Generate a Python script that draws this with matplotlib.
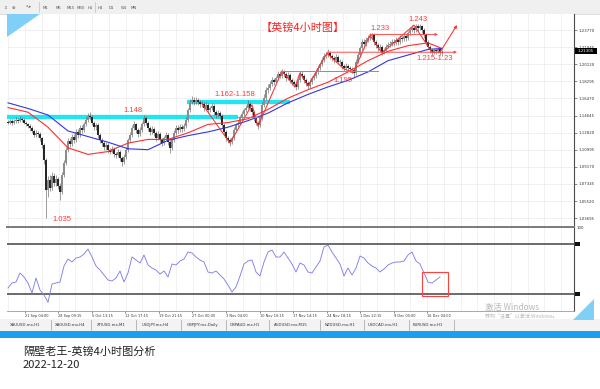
import matplotlib
matplotlib.use("Agg")
import matplotlib.pyplot as plt
from matplotlib.patches import Polygon, Rectangle
import numpy as np

plt.rcParams['font.family'] = ['DejaVu Sans', 'Noto Sans CJK SC']
CJK = ['Noto Sans CJK SC', 'DejaVu Sans']

# ---------------- data (GBPUSD 4H) ----------------
closes = [
    1.139, 1.141, 1.138, 1.141, 1.142, 1.141, 1.143, 1.142, 1.139, 1.137,
    1.135, 1.133, 1.130, 1.126, 1.128, 1.127, 1.122, 1.115, 1.099, 1.067,
    1.078, 1.069, 1.082, 1.074, 1.079, 1.071, 1.065, 1.083, 1.096, 1.110,
    1.119, 1.116, 1.124, 1.120, 1.129, 1.126, 1.133, 1.131, 1.137, 1.142,
    1.146, 1.145, 1.139, 1.134, 1.136, 1.126, 1.120, 1.117, 1.113, 1.115,
    1.110, 1.108, 1.111, 1.105, 1.104, 1.108, 1.101, 1.097, 1.102, 1.110,
    1.120, 1.126, 1.133, 1.137, 1.131, 1.127, 1.131, 1.137, 1.144, 1.139,
    1.133, 1.129, 1.132, 1.128, 1.122, 1.127, 1.120, 1.117, 1.122, 1.126,
    1.118, 1.112, 1.120, 1.128, 1.133, 1.131, 1.134, 1.132, 1.135, 1.142,
    1.152, 1.161, 1.163, 1.161, 1.163, 1.161, 1.159, 1.159, 1.154, 1.158,
    1.152, 1.154, 1.157, 1.150, 1.147, 1.149, 1.146, 1.136, 1.129, 1.122,
    1.120, 1.118, 1.122, 1.131, 1.136, 1.139, 1.144, 1.148, 1.152, 1.155,
    1.159, 1.154, 1.150, 1.144, 1.139, 1.136, 1.144, 1.158, 1.165, 1.174,
    1.176, 1.180, 1.184, 1.182, 1.186, 1.191, 1.189, 1.193, 1.191, 1.186,
    1.190, 1.184, 1.182, 1.180, 1.177, 1.184, 1.191, 1.189, 1.184, 1.181,
    1.178, 1.182, 1.186, 1.189, 1.193, 1.197, 1.201, 1.206, 1.210, 1.211,
    1.213, 1.210, 1.208, 1.206, 1.209, 1.204, 1.204, 1.199, 1.197, 1.199,
    1.197, 1.196, 1.195, 1.192, 1.204, 1.211, 1.218, 1.225, 1.223, 1.227,
    1.229, 1.231, 1.232, 1.225, 1.222, 1.218, 1.220, 1.214, 1.216, 1.220,
    1.222, 1.223, 1.225, 1.224, 1.227, 1.225, 1.229, 1.228, 1.231, 1.229,
    1.234, 1.238, 1.240, 1.238, 1.242, 1.240, 1.242, 1.238, 1.232, 1.225,
    1.220, 1.216, 1.214, 1.216, 1.215, 1.217, 1.214, 1.213]
highs = [
    1.142, 1.143, 1.143, 1.143, 1.145, 1.144, 1.146, 1.145, 1.144, 1.141,
    1.139, 1.137, 1.135, 1.132, 1.131, 1.130, 1.129, 1.124, 1.117, 1.101,
    1.082, 1.083, 1.086, 1.085, 1.083, 1.081, 1.074, 1.086, 1.099, 1.113,
    1.122, 1.123, 1.127, 1.127, 1.132, 1.132, 1.136, 1.136, 1.140, 1.145,
    1.149, 1.150, 1.147, 1.141, 1.139, 1.138, 1.128, 1.122, 1.119, 1.118,
    1.117, 1.112, 1.114, 1.113, 1.108, 1.111, 1.110, 1.103, 1.105, 1.113,
    1.123, 1.129, 1.136, 1.141, 1.139, 1.133, 1.134, 1.140, 1.147, 1.146,
    1.141, 1.135, 1.135, 1.134, 1.130, 1.130, 1.129, 1.122, 1.125, 1.129,
    1.128, 1.120, 1.123, 1.131, 1.136, 1.136, 1.137, 1.137, 1.138, 1.145,
    1.155, 1.164, 1.167, 1.166, 1.166, 1.165, 1.163, 1.162, 1.161, 1.161,
    1.160, 1.157, 1.160, 1.159, 1.152, 1.152, 1.151, 1.148, 1.138, 1.131,
    1.125, 1.123, 1.125, 1.134, 1.139, 1.142, 1.147, 1.151, 1.155, 1.158,
    1.163, 1.161, 1.156, 1.152, 1.146, 1.141, 1.147, 1.161, 1.169, 1.177,
    1.180, 1.183, 1.188, 1.187, 1.189, 1.194, 1.194, 1.196, 1.195, 1.193,
    1.193, 1.192, 1.186, 1.184, 1.182, 1.187, 1.194, 1.194, 1.191, 1.186,
    1.183, 1.185, 1.189, 1.192, 1.196, 1.200, 1.204, 1.209, 1.213, 1.214,
    1.217, 1.215, 1.212, 1.210, 1.212, 1.211, 1.207, 1.206, 1.201, 1.202,
    1.201, 1.199, 1.198, 1.197, 1.207, 1.214, 1.221, 1.228, 1.228, 1.230,
    1.232, 1.234, 1.235, 1.234, 1.227, 1.224, 1.223, 1.222, 1.219, 1.223,
    1.225, 1.226, 1.228, 1.228, 1.230, 1.229, 1.232, 1.231, 1.234, 1.233,
    1.237, 1.241, 1.243, 1.242, 1.244, 1.244, 1.244, 1.243, 1.240, 1.234,
    1.227, 1.222, 1.218, 1.219, 1.219, 1.220, 1.219, 1.217]
lows = [
    1.137, 1.137, 1.136, 1.137, 1.139, 1.139, 1.140, 1.140, 1.137, 1.135,
    1.133, 1.130, 1.128, 1.124, 1.124, 1.124, 1.119, 1.112, 1.095, 1.037,
    1.060, 1.066, 1.067, 1.071, 1.071, 1.068, 1.056, 1.063, 1.081, 1.094,
    1.108, 1.113, 1.114, 1.117, 1.118, 1.123, 1.124, 1.128, 1.129, 1.135,
    1.140, 1.142, 1.136, 1.131, 1.131, 1.123, 1.117, 1.114, 1.110, 1.110,
    1.107, 1.105, 1.106, 1.102, 1.101, 1.102, 1.098, 1.093, 1.095, 1.100,
    1.108, 1.118, 1.124, 1.131, 1.128, 1.124, 1.125, 1.129, 1.135, 1.136,
    1.130, 1.126, 1.127, 1.125, 1.119, 1.120, 1.117, 1.114, 1.115, 1.120,
    1.115, 1.107, 1.110, 1.118, 1.126, 1.128, 1.129, 1.129, 1.130, 1.133,
    1.140, 1.150, 1.159, 1.158, 1.159, 1.158, 1.156, 1.156, 1.151, 1.152,
    1.149, 1.150, 1.152, 1.147, 1.144, 1.145, 1.143, 1.133, 1.126, 1.119,
    1.117, 1.114, 1.116, 1.120, 1.129, 1.134, 1.137, 1.142, 1.146, 1.150,
    1.153, 1.151, 1.147, 1.141, 1.136, 1.132, 1.134, 1.142, 1.156, 1.163,
    1.171, 1.174, 1.178, 1.179, 1.180, 1.184, 1.186, 1.187, 1.188, 1.183,
    1.184, 1.181, 1.179, 1.177, 1.174, 1.175, 1.182, 1.186, 1.181, 1.178,
    1.175, 1.176, 1.180, 1.184, 1.187, 1.191, 1.195, 1.199, 1.204, 1.208,
    1.209, 1.207, 1.205, 1.203, 1.204, 1.201, 1.201, 1.196, 1.194, 1.195,
    1.194, 1.193, 1.192, 1.187, 1.190, 1.202, 1.209, 1.216, 1.220, 1.221,
    1.225, 1.227, 1.228, 1.222, 1.219, 1.215, 1.216, 1.211, 1.212, 1.214,
    1.218, 1.220, 1.221, 1.221, 1.222, 1.222, 1.223, 1.225, 1.226, 1.226,
    1.227, 1.232, 1.236, 1.235, 1.236, 1.237, 1.238, 1.235, 1.229, 1.222,
    1.217, 1.213, 1.211, 1.212, 1.212, 1.213, 1.211, 1.210]
opens = [1.140] + closes[:-1]

ma_bars = [0, 10, 20, 30, 40, 50, 60, 70, 80, 90, 100, 110, 120, 130, 140,
           150, 160, 170, 180, 190, 200, 210, 217]
ma_red = [1.155, 1.150, 1.134, 1.112, 1.105, 1.108, 1.117, 1.121, 1.121, 1.128,
          1.137, 1.139, 1.143, 1.153, 1.165, 1.174, 1.182, 1.193, 1.205, 1.215,
          1.221, 1.224, 1.218]
ma_blue = [1.160, 1.154, 1.147, 1.130, 1.124, 1.118, 1.111, 1.110, 1.120, 1.125,
           1.129, 1.134, 1.141, 1.149, 1.160, 1.169, 1.177, 1.184, 1.193, 1.205,
           1.211, 1.217, 1.218]

osc = [27.2, 33.2, 34.4, 45.2, 40.4, 33.2, 21.2, 39.2, 24.8, 18.8,
       10.0, 32.0, 33.2, 34.4, 53.6, 62.0, 58.4, 63.2, 64.4, 68.0,
       74.0, 64.4, 53.6, 48.8, 42.8, 36.8, 35.6, 39.2, 47.6, 34.4,
       45.2, 64.4, 60.8, 57.2, 66.8, 54.8, 51.2, 48.8, 44.0, 47.6,
       40.4, 56.0, 54.8, 59.6, 62.0, 70.4, 69.2, 64.4, 60.8, 58.4,
       46.4, 45.2, 47.6, 42.8, 38.0, 30.8, 22.4, 28.4, 41.6, 56.0,
       59.6, 60.8, 46.4, 41.6, 58.4, 70.4, 72.8, 64.4, 64.4, 70.4,
       63.2, 56.0, 46.4, 57.2, 54.8, 46.4, 45.2, 52.4, 59.6, 76.4,
       78.8, 70.4, 63.2, 56.0, 41.6, 51.2, 42.8, 51.2, 65.6, 63.2,
       57.2, 53.6, 51.2, 46.4, 50.0, 54.8, 57.2, 58.4, 58.4, 59.6,
       66.8, 70.4, 59.6, 56.0, 45.2, 34.4, 33.2, 36.8, 40.4]
osc_bars = list(range(0, 2 * len(osc), 2))
osc_levels = [80, 20]

price_labels = [1.23770, 1.21945, 1.20120, 1.18295, 1.16470, 1.14645,
                1.12820, 1.10995, 1.09170, 1.07345, 1.05520, 1.03695]
last_price = "1.21305"
date_ticks = [8.5, 25, 42, 58.5, 75.5, 92, 109, 126, 142.5, 159.5, 176, 193, 209.5]
date_labels = ["21 Sep 04:00", "28 Sep 09:15", "5 Oct 13:15", "12 Oct 17:15",
               "19 Oct 21:15", "27 Oct 00:00", "3 Nov 04:00", "10 Nov 10:15",
               "17 Nov 14:15", "24 Nov 18:15", "1 Dec 22:15", "9 Dec 00:00",
               "16 Dec 04:00"]

# analyst drawings (bar index, price)
bands = [(1.1446, -0.5, 115), (1.1609, 89.5, 141)]
zig_bars = [97, 111, 122, 125, 137, 143.5, 146, 150, 159.5, 167.5, 172.5, 181,
            187, 203, 212, 216]
zig_prices = [1.159, 1.117, 1.158, 1.135, 1.194, 1.177, 1.192, 1.178, 1.213,
              1.197, 1.192, 1.232, 1.213, 1.243, 1.214, 1.214]
arrow_up = [(216, 1.214), (224.5, 1.243)]
h_levels = [(1.194, 137, 185, False), (1.214, 159.5, 224.5, True),
            (1.233, 181, 215, True), (1.1446, 115, 126, False)]
notes = [("1.148", 62.5, 1.1513), ("1.035", 27, 1.0355),
         ("1.162-1.158", 113.5, 1.1690), ("1.195", 167.5, 1.1840),
         ("1.233", 186, 1.2398), ("1.243", 205, 1.2484),
         ("1.215-1.23", 213.5, 1.2078)]
chart_title = "【英镑4小时图】"
title_pos = (147.5, 1.2398)
osc_box = (207, 220, 17.6, 46.4)

tabs = ["XAUUSD.mx,H1", "XAGUSD.mx,H4", "XTIUSD.mx,M1", "USDJPY.mx,H4",
        "GBPJPY.mx,Daily", "GBPAUD.mx,H1", "AUDUSD.mx,M15", "NZDUSD.mx,H1",
        "USDCAD.mx,H1", "EURUSD.mx,H1"]
periods = ["M1", "M5", "M15", "M30", "H1", "H4", "D1", "W1", "MN"]

# ---------------- layout helpers ----------------
W, H = 600, 389
fig = plt.figure(figsize=(6, 3.89), dpi=100)
fig.patch.set_facecolor('white')


def rect(x0, y0, x1, y1):
    return [x0 / W, 1 - y1 / H, (x1 - x0) / W, (y1 - y0) / H]


# background chrome
bg = fig.add_axes([0, 0, 1, 1], zorder=0)
bg.set_xlim(0, W)
bg.set_ylim(H, 0)
bg.axis('off')
bg.add_patch(Rectangle((0, 0), W, 13.5, color='#f0f0f0', lw=0))
bg.plot([0, W], [13.5, 13.5], color='#cfcfcf', lw=0.5)
for k, xp in enumerate([43, 56, 67, 77, 88, 98, 109, 121, 131]):
    bg.text(xp, 7.5, periods[k], fontsize=2.8, color='#555555', va='center', ha='left')
for xp in [39, 95]:
    bg.plot([xp, xp], [2, 12], color='#c0c0c0', lw=0.5)
for xp, s in [(3, '⇕'), (12, '⊕'), (25, '↖▾')]:
    bg.text(xp, 7.5, s, fontsize=3.2, color='#606060', va='center', ha='left')
# tabs row + blue strip
bg.add_patch(Rectangle((0, 319), W, 12, color='#f3f3f3', lw=0))
tab_x = [10, 55, 97, 142, 187, 230, 274, 325, 368, 413]
sep_x = [51, 91, 136, 181, 226, 269, 320, 364, 409, 454]
for t, xp in zip(tabs, tab_x):
    bg.text(xp, 325, t, fontsize=2.8, color='#333333', va='center', ha='left')
for xp in sep_x:
    bg.plot([xp, xp], [320, 330], color='#a0a0a0', lw=0.5)
bg.add_patch(Rectangle((0, 331), W, 7, color='#1c9ff0', lw=0))
# bottom titles
bg.text(23, 352, "隔壁老王-英镑4小时图分析", fontsize=8, family=CJK,
        color='#222222', va='center', ha='left')
bg.text(23, 365.5, "2022-12-20", fontsize=8, family=CJK,
        color='#222222', va='center', ha='left')

# ---------------- main price pane ----------------
ax = fig.add_axes(rect(7, 14, 574, 227), zorder=2)
ax.set_xlim(-0.5, 283)
ax.set_ylim(1.0275, 1.2548)
ax.set_facecolor('white')
grid_x = np.arange(date_ticks[0] - 8.375, 283, 8.375)
for gx in grid_x:
    ax.axvline(gx, color='#ececec', lw=0.5, zorder=0)
for gy in price_labels:
    ax.axhline(gy, color='#ececec', lw=0.5, zorder=0)

for lvl, b0, b1 in bands:
    ax.plot([b0, b1], [lvl, lvl], color='#1ee6f2', lw=3.1, solid_capstyle='butt', zorder=1)

xb = np.arange(len(closes))
o = np.array(opens)
c = np.array(closes)
ax.vlines(xb, lows, highs, color='#555555', lw=0.4, zorder=2)
body_lo = np.minimum(o, c)
body_h = np.maximum(np.abs(c - o), 0.0004)
cols = np.where(c >= o, '#8c8c8c', '#262626')
ax.bar(xb, body_h, bottom=body_lo, width=0.55, color=cols, lw=0, zorder=2)

ax.plot(ma_bars, ma_red, color='#ff2d2d', lw=0.8, zorder=3)
ax.plot(ma_bars, ma_blue, color='#3535dd', lw=0.8, zorder=3)

red = '#ff3030'
ax.plot(zig_bars, zig_prices, color=red, lw=0.75, zorder=4)
ax.annotate('', xy=arrow_up[1], xytext=arrow_up[0],
            arrowprops=dict(arrowstyle='-|>', color=red, lw=0.75,
                            mutation_scale=4, shrinkA=0, shrinkB=0), zorder=4)
for lvl, b0, b1, arr in h_levels:
    if arr:
        ax.annotate('', xy=(b1, lvl), xytext=(b0, lvl),
                    arrowprops=dict(arrowstyle='-|>', color='#ff4a4a', lw=0.7,
                                    mutation_scale=3.5, shrinkA=0, shrinkB=0), zorder=4)
    else:
        ax.plot([b0, b1], [lvl, lvl], color='#ff6060', lw=0.7, zorder=4)
for s, bx, py in notes:
    ax.text(bx, py, s, color='#ff3a3a', fontsize=5.5, family='Liberation Sans',
            ha='center', va='center', zorder=5)
ax.text(title_pos[0], title_pos[1], chart_title, color='#ff2020', fontsize=8,
        family=CJK, ha='center', va='center', zorder=5)

for sp in ['top', 'left']:
    ax.spines[sp].set_visible(False)
ax.spines['right'].set_color('#4a4a4a')
ax.spines['right'].set_linewidth(0.8)
ax.spines['bottom'].set_color('#7a7a7a')
ax.spines['bottom'].set_linewidth(1.4)
ax.yaxis.tick_right()
ax.set_yticks(price_labels)
ax.set_yticklabels([f"{v:.5f}" for v in price_labels])
ax.tick_params(axis='y', labelsize=2.8, length=1.8, width=0.4, pad=1.2,
               colors='#333333')
ax.set_xticks([])

# ---------------- oscillator pane ----------------
ax2 = fig.add_axes(rect(7, 227, 574, 311), zorder=1)
ax2.set_xlim(-0.5, 283)
ax2.set_ylim(-0.4, 100.4)
ax2.set_facecolor('white')
for gx in grid_x:
    ax2.axvline(gx, color='#ededed', lw=0.5, zorder=0)
for lv in osc_levels:
    ax2.axhline(lv, color='#6a6a6a', lw=1.4, zorder=1)
ax2.plot(osc_bars, osc, color='#8080ee', lw=0.65, zorder=2)
ax2.add_patch(Rectangle((osc_box[0], osc_box[2]), osc_box[1] - osc_box[0],
                        osc_box[3] - osc_box[2], fill=False, edgecolor='#ff4040',
                        lw=0.8, zorder=3))
for sp in ['top', 'left']:
    ax2.spines[sp].set_visible(False)
ax2.spines['right'].set_color('#4a4a4a')
ax2.spines['right'].set_linewidth(0.8)
ax2.spines['bottom'].set_color('#9a9a9a')
ax2.spines['bottom'].set_linewidth(0.6)
ax2.yaxis.tick_right()
ax2.set_yticks([100])
ax2.set_yticklabels(["100"])
ax2.tick_params(axis='y', labelsize=2.8, length=0, pad=2, colors='#333333')
ax2.set_xticks(date_ticks)
ax2.set_xticklabels(date_labels, ha='left')
ax2.tick_params(axis='x', labelsize=2.5, length=1.5, width=0.4, pad=1,
                colors='#333333')

# ---------------- overlay chrome ----------------
fg = fig.add_axes([0, 0, 1, 1], zorder=10)
fg.set_xlim(0, W)
fg.set_ylim(H, 0)
fg.axis('off')
fg.patch.set_alpha(0)
fg.add_patch(Polygon([(7, 14), (40, 14), (7, 37)], closed=True,
                     color='#7fcff6', lw=0))
fg.add_patch(Polygon([(573, 320), (594, 299), (594, 320)], closed=True,
                     color='#7fcff6', lw=0))
fg.add_patch(Rectangle((575, 48), 22, 6, color='black', lw=0))
fg.text(586, 51, last_price, color='white', fontsize=2.8, ha='center', va='center')
for yy in [244, 294]:
    fg.add_patch(Rectangle((575, yy - 2), 5, 4, color='#111111', lw=0))
fg.text(485, 307, "激活 Windows", fontsize=6, color='#b8b8b8', family=CJK,
        ha='left', va='center')
fg.text(485, 316, "转到\u201c设置\u201d以激活 Windows。", fontsize=3.6,
        color='#b8b8b8', family=CJK, ha='left', va='center')

fig.savefig("out.png", dpi=100, facecolor='white')
